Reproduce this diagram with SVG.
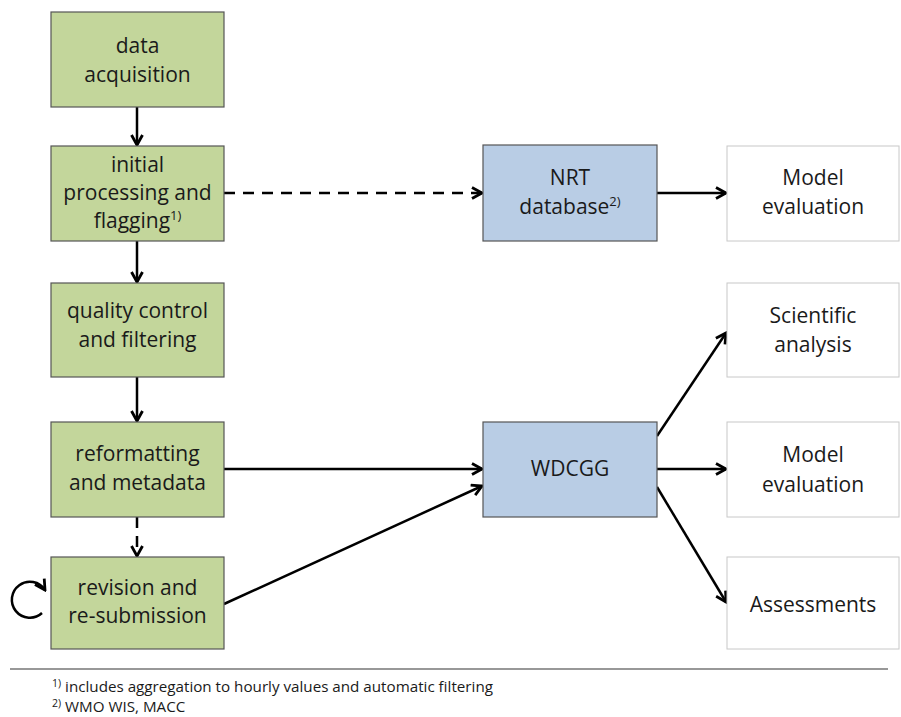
<svg xmlns="http://www.w3.org/2000/svg" width="901" height="717" viewBox="0 0 901 717">
<style>
.g{fill:#c3d69b;stroke:#555;stroke-width:1.2}
.b{fill:#b9cde5;stroke:#555;stroke-width:1.2}
.w{fill:#fff;stroke:#c8c8c8;stroke-width:1}
text{font-family:"Open Sans","Noto Sans",sans-serif;font-size:21px;fill:#1a1a1a;text-anchor:middle}
.fn{font-size:15.2px;text-anchor:start}
.sup{font-size:13px}
.c{fill:none;stroke:#000;stroke-width:2.5;marker-end:url(#ah)}
.d{stroke-dasharray:11 8}
</style>
<defs>
<marker id="ah" viewBox="0 0 14 14" refX="12" refY="7" markerWidth="14" markerHeight="14" markerUnits="userSpaceOnUse" orient="auto">
<path d="M2,1.5 L12,7 L2,12.5" fill="none" stroke="#000" stroke-width="2.8"/>
</marker>
</defs>
<g id="connectors">
<line class="c" x1="137" y1="107" x2="137" y2="145"/>
<line class="c" x1="137" y1="241" x2="137" y2="282"/>
<line class="c" x1="137" y1="377" x2="137" y2="421"/>
<line class="c d" x1="137" y1="517" x2="137" y2="556"/>
<line class="c d" x1="224" y1="193" x2="482" y2="193"/>
<line class="c" x1="657" y1="193" x2="726" y2="193"/>
<line class="c" x1="224" y1="469" x2="482" y2="469"/>
<line class="c" x1="224" y1="604" x2="482" y2="486"/>
<line class="c" x1="657" y1="436" x2="726" y2="333"/>
<line class="c" x1="657" y1="469" x2="726" y2="469"/>
<line class="c" x1="657" y1="487" x2="726" y2="602"/>
<path class="c" d="M42,613 A18,18 0 1 1 45,590"/>
</g>
<g id="n1"><rect class="g" x="51" y="12" width="173" height="95"/><text x="137.5" y="53">data</text><text x="137.5" y="82">acquisition</text></g>
<g id="n2"><rect class="g" x="51" y="146" width="173" height="95"/><text x="137.5" y="172">initial</text><text x="137.5" y="200">processing and</text><text x="137.5" y="228">flagging<tspan class="sup" dy="-8">1)</tspan></text></g>
<g id="n3"><rect class="g" x="51" y="283" width="173" height="94"/><text x="137.5" y="318">quality control</text><text x="137.5" y="347">and filtering</text></g>
<g id="n4"><rect class="g" x="51" y="422" width="173" height="95"/><text x="137.5" y="461">reformatting</text><text x="137.5" y="490">and metadata</text></g>
<g id="n5"><rect class="g" x="51" y="557" width="173" height="92"/><text x="137.5" y="595">revision and</text><text x="137.5" y="623">re-submission</text></g>
<g id="nrt"><rect class="b" x="483" y="145" width="174" height="96"/><text x="570" y="185">NRT</text><text x="570" y="214">database<tspan class="sup" dy="-8">2)</tspan></text></g>
<g id="wdcgg"><rect class="b" x="483" y="422" width="174" height="95"/><text x="570" y="476">WDCGG</text></g>
<g id="me1"><rect class="w" x="727" y="146" width="172" height="95"/><text x="813" y="185">Model</text><text x="813" y="214">evaluation</text></g>
<g id="sa"><rect class="w" x="727" y="283" width="172" height="94"/><text x="813" y="323">Scientific</text><text x="813" y="352">analysis</text></g>
<g id="me2"><rect class="w" x="727" y="422" width="172" height="95"/><text x="813" y="462">Model</text><text x="813" y="492">evaluation</text></g>
<g id="as"><rect class="w" x="727" y="557" width="172" height="92"/><text x="813" y="612">Assessments</text></g>
<g id="footnotes">
<line x1="10" y1="669" x2="888" y2="669" stroke="#333" stroke-width="1.2"/>
<text class="fn" x="52" y="692"><tspan font-size="10.5" dy="-5">1)</tspan><tspan dy="5"> includes aggregation to hourly values and automatic filtering</tspan></text>
<text class="fn" x="52" y="712"><tspan font-size="10.5" dy="-5">2)</tspan><tspan dy="5"> WMO WIS, MACC</tspan></text>
</g>
</svg>
